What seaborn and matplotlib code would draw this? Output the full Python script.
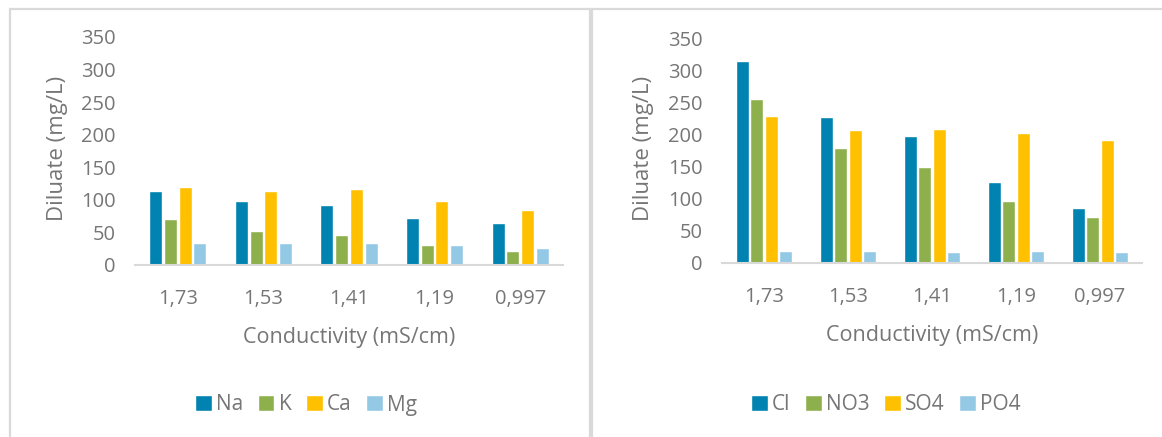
import numpy as np
import pandas as pd
import matplotlib
matplotlib.use("Agg")
import matplotlib.pyplot as plt
from matplotlib.patches import Rectangle
import seaborn as sns

# Conductivity levels (x categories)
conductivity = ["1,73", "1,53", "1,41", "1,19", "0,997"]

# Cations in diluate (mg/L)
cations = ["Na", "K", "Ca", "Mg"]
na = [114, 98, 92, 72, 64]
k = [70, 52, 46, 30, 22]
ca = [120, 114, 116, 98, 84]
mg = [34, 34, 34, 30, 26]

# Anions in diluate (mg/L)
anions = ["Cl", "NO3", "SO4", "PO4"]
cl = [314, 227, 197, 126, 85]
no3 = [255, 179, 150, 97, 71]
so4 = [229, 207, 209, 203, 192]
po4 = [19, 19, 17, 19, 17]

yticks = [0, 50, 100, 150, 200, 250, 300, 350]
palette = ["#0083B0", "#8DB04D", "#FFC000", "#94C9E6"]
text_color = "#767676"

sns.set_theme(style="white")
plt.rcParams["font.family"] = ["Open Sans", "DejaVu Sans"]


def long_table(names, series):
    rows = []
    for name, vals in zip(names, series):
        for cat, v in zip(conductivity, vals):
            rows.append({"Conductivity": cat, "Ion": name, "Value": v})
    return pd.DataFrame(rows)


fig = plt.figure(figsize=(11.62, 4.37), dpi=100)

# Panel frames
for x0, w in [(10, 580), (592, 600)]:
    fig.patches.append(Rectangle((x0 / 1162, -0.1), w / 1162, 1.1 - 9 / 437,
                                 transform=fig.transFigure, fill=False,
                                 edgecolor="#D9D9D9", linewidth=1.6))

panels = [
    (cations, [na, k, ca, mg], [135 / 1162, 1 - 265 / 437, 428 / 1162, 228 / 437], 57, 306),
    (anions, [cl, no3, so4, po4], [722 / 1162, 1 - 263 / 437, 420 / 1162, 225 / 437], 643, 886),
]

for names, series, rect, ylab_x, leg_x in panels:
    ax = fig.add_axes(rect)
    df = long_table(names, series)
    sns.barplot(data=df, x="Conductivity", y="Value", hue="Ion",
                order=conductivity, hue_order=names, palette=palette,
                width=0.69, gap=0.12, saturation=1, ax=ax, legend=True)
    ax.set_ylim(0, 350)
    ax.set_yticks(yticks)
    ax.set_xlim(-0.5, len(conductivity) - 0.5)
    for s in ["top", "right", "left"]:
        ax.spines[s].set_visible(False)
    ax.spines["bottom"].set_color("#D9D9D9")
    ax.spines["bottom"].set_linewidth(1.5)
    ax.tick_params(axis="both", length=0, labelsize=14.5, colors=text_color)
    ax.tick_params(axis="x", pad=17)
    ax.tick_params(axis="y", pad=14)
    ax.set_xlabel("Conductivity (mS/cm)", fontsize=15.5, color=text_color, labelpad=13)
    ax.set_ylabel("")
    fig.text(ylab_x / 1162, 1 - 148 / 437, "Diluate (mg/L)", rotation=90,
             ha="center", va="center", fontsize=16, color=text_color)
    handles, labels = ax.get_legend_handles_labels()
    ax.get_legend().remove()
    fig.legend(handles, labels, loc="center", ncol=4, frameon=False,
               bbox_to_anchor=(leg_x / 1162, 1 - 405 / 437),
               fontsize=15, labelcolor=text_color, handlelength=0.8,
               handleheight=0.8, handletextpad=0.2, columnspacing=0.7)

fig.savefig("out.png", dpi=100, facecolor="white")
